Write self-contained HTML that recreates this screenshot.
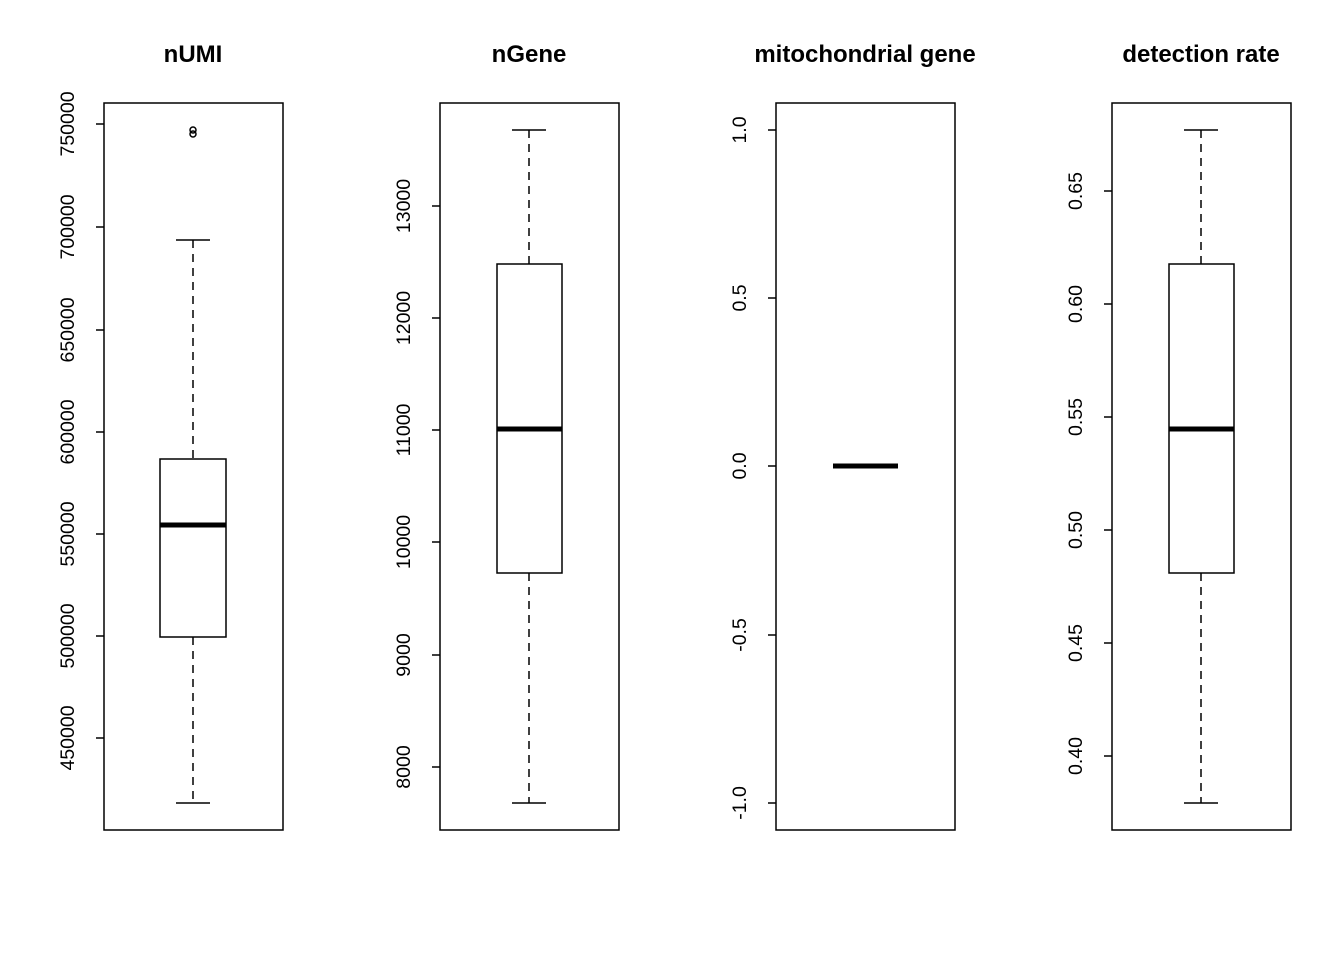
<!DOCTYPE html>
<html><head><meta charset="utf-8"><style>html,body{margin:0;padding:0;background:#fff}</style></head>
<body>
<svg width="1344" height="960" viewBox="0 0 1344 960" xmlns="http://www.w3.org/2000/svg" font-family="Liberation Sans, Arial, sans-serif">
<rect width="1344" height="960" fill="#fff"/>
<g fill="none" stroke="#000" stroke-width="1.5">
<rect x="104" y="103" width="179" height="727"/>
<rect x="440" y="103" width="179" height="727"/>
<rect x="776" y="103" width="179" height="727"/>
<rect x="1112" y="103" width="179" height="727"/>
</g>
<g font-weight="bold" font-size="24" text-anchor="middle">
<text x="193" y="62">nUMI</text>
<text x="529" y="62">nGene</text>
<text x="865" y="62">mitochondrial gene</text>
<text x="1201" y="62">detection rate</text>
</g>
<!-- panel 1 -->
<g stroke="#000" stroke-width="1.5" fill="none">
<line x1="96" y1="124" x2="104" y2="124"/><line x1="96" y1="227" x2="104" y2="227"/><line x1="96" y1="330" x2="104" y2="330"/><line x1="96" y1="432" x2="104" y2="432"/><line x1="96" y1="534" x2="104" y2="534"/><line x1="96" y1="636" x2="104" y2="636"/><line x1="96" y1="738" x2="104" y2="738"/>
<line x1="193" y1="240" x2="193" y2="459" stroke-dasharray="8,6"/>
<line x1="193" y1="637" x2="193" y2="803" stroke-dasharray="8,6"/>
<line x1="176" y1="240" x2="210" y2="240"/><line x1="176" y1="803" x2="210" y2="803"/>
<rect x="160" y="459" width="66" height="178"/>
<line x1="160" y1="525" x2="226" y2="525" stroke-width="5"/>
<circle cx="193" cy="130" r="3"/><circle cx="193" cy="134" r="3"/>
</g>
<g font-size="19.5" text-anchor="middle">
<text transform="translate(74,124) rotate(-90)">750000</text>
<text transform="translate(74,227) rotate(-90)">700000</text>
<text transform="translate(74,330) rotate(-90)">650000</text>
<text transform="translate(74,432) rotate(-90)">600000</text>
<text transform="translate(74,534) rotate(-90)">550000</text>
<text transform="translate(74,636) rotate(-90)">500000</text>
<text transform="translate(74,738) rotate(-90)">450000</text>
</g>
<!-- panel 2 -->
<g stroke="#000" stroke-width="1.5" fill="none">
<line x1="432" y1="206" x2="440" y2="206"/><line x1="432" y1="318" x2="440" y2="318"/><line x1="432" y1="430" x2="440" y2="430"/><line x1="432" y1="542" x2="440" y2="542"/><line x1="432" y1="655" x2="440" y2="655"/><line x1="432" y1="767" x2="440" y2="767"/>
<line x1="529" y1="130" x2="529" y2="264" stroke-dasharray="8,6"/>
<line x1="529" y1="573" x2="529" y2="803" stroke-dasharray="8,6"/>
<line x1="512" y1="130" x2="546" y2="130"/><line x1="512" y1="803" x2="546" y2="803"/>
<rect x="497" y="264" width="65" height="309"/>
<line x1="497" y1="429" x2="562" y2="429" stroke-width="5"/>
</g>
<g font-size="19.5" text-anchor="middle">
<text transform="translate(410,206) rotate(-90)">13000</text>
<text transform="translate(410,318) rotate(-90)">12000</text>
<text transform="translate(410,430) rotate(-90)">11000</text>
<text transform="translate(410,542) rotate(-90)">10000</text>
<text transform="translate(410,655) rotate(-90)">9000</text>
<text transform="translate(410,767) rotate(-90)">8000</text>
</g>
<!-- panel 3 -->
<g stroke="#000" stroke-width="1.5" fill="none">
<line x1="768" y1="130" x2="776" y2="130"/><line x1="768" y1="298" x2="776" y2="298"/><line x1="768" y1="466" x2="776" y2="466"/><line x1="768" y1="635" x2="776" y2="635"/><line x1="768" y1="803" x2="776" y2="803"/>
<line x1="833" y1="466" x2="898" y2="466" stroke-width="5"/>
</g>
<g font-size="19.5" text-anchor="middle">
<text transform="translate(746,130) rotate(-90)">1.0</text>
<text transform="translate(746,298) rotate(-90)">0.5</text>
<text transform="translate(746,466) rotate(-90)">0.0</text>
<text transform="translate(746,635) rotate(-90)">-0.5</text>
<text transform="translate(746,803) rotate(-90)">-1.0</text>
</g>
<!-- panel 4 -->
<g stroke="#000" stroke-width="1.5" fill="none">
<line x1="1104" y1="191" x2="1112" y2="191"/><line x1="1104" y1="304" x2="1112" y2="304"/><line x1="1104" y1="417" x2="1112" y2="417"/><line x1="1104" y1="530" x2="1112" y2="530"/><line x1="1104" y1="643" x2="1112" y2="643"/><line x1="1104" y1="756" x2="1112" y2="756"/>
<line x1="1201" y1="130" x2="1201" y2="264" stroke-dasharray="8,6"/>
<line x1="1201" y1="573" x2="1201" y2="803" stroke-dasharray="8,6"/>
<line x1="1184" y1="130" x2="1218" y2="130"/><line x1="1184" y1="803" x2="1218" y2="803"/>
<rect x="1169" y="264" width="65" height="309"/>
<line x1="1169" y1="429" x2="1234" y2="429" stroke-width="5"/>
</g>
<g font-size="19.5" text-anchor="middle">
<text transform="translate(1082,191) rotate(-90)">0.65</text>
<text transform="translate(1082,304) rotate(-90)">0.60</text>
<text transform="translate(1082,417) rotate(-90)">0.55</text>
<text transform="translate(1082,530) rotate(-90)">0.50</text>
<text transform="translate(1082,643) rotate(-90)">0.45</text>
<text transform="translate(1082,756) rotate(-90)">0.40</text>
</g>
</svg>
</body></html>
